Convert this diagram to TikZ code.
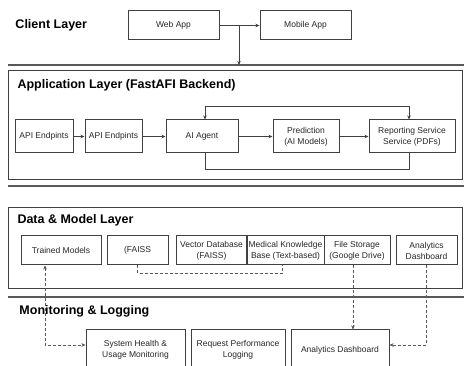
\documentclass[tikz,border=0pt]{standalone}
\usepackage{fontspec}
\setmainfont{Liberation Sans}
\usepackage{tikz}
\usetikzlibrary{arrows.meta,positioning,calc}

\begin{document}
\begin{tikzpicture}[x=1pt, y=-1pt, >={Stealth[length=4pt,width=3.5pt]},
	   font=\fontsize{8.5}{11}\selectfont, line width=1pt, draw=black!75, text=black!85,
	   b/.style={draw=black!75, align=center, inner sep=2pt, minimum height=29pt},
	   lay/.style={anchor=west, inner sep=0pt, font=\fontsize{12.5}{14}\selectfont\bfseries, text=black},
	   sep/.style={line width=1.5pt, draw=black!65},
	   dsh/.style={densely dashed, line width=0.5pt, draw=black!65}]
	  \clip (0,0) rectangle (464,366);
	  % layer frames and separators
	  \draw[sep] (8,65) -- (464,65);
	  \draw[sep] (8,186) -- (464,186);
	  \draw[sep] (8,297) -- (464,297);
	  \draw (8,71) rectangle (462,180);
	  \draw (8,208) rectangle (462,289);
	  \node[lay] (lc) at (15,25) {Client Layer};
	  \node[lay] (la) at (17,85) {Application Layer (FastAFI Backend)};
	  \node[lay] (ld) at (17,220) {Data \& Model Layer};
	  \node[lay] (lm) at (19,311) {Monitoring \& Logging};
	  % client
	  \node[b, minimum width=91pt] (web) at (173.5,25.5) {Web App};
	  \node[b, minimum width=91pt] (mob) at (305.5,25.5) {Mobile App};
	  \coordinate (appin) at (239,65);
	  \draw[->] (web) -- (mob);
	  \draw[->] (web.east) -| (appin);
	  % application
	  \node[b, minimum width=58pt, minimum height=33pt] (ep1) at (44,136.5) {API Endpints};
	  \node[b, minimum width=57pt, minimum height=33pt] (ep2) at (113.5,136.5) {API Endpints};
	  \node[b, minimum width=72pt, minimum height=33pt] (agent) at (202,136.5) {AI Agent};
	  \node[b, minimum width=66pt, minimum height=33pt] (pred) at (306,136.5) {Prediction\\(AI Models)};
	  \node[b, minimum width=86pt, minimum height=33pt] (rep) at (412,136.5) {Reporting Service\\Service (PDFs)};
	  \draw[->] (ep1) -- (ep2);
	  \draw[->] (ep2) -- (agent);
	  \draw[->] (agent) -- (pred);
	  \draw[->] (pred) -- (rep);
	  \draw[<->] ([xshift=3pt]agent.north) -- ++(0,-13) -| ([xshift=-3pt]rep.north);
	  \draw ([xshift=3pt]agent.south) -- ++(0,16) -| ([xshift=-3pt]rep.south);
	  % data and models
	  \node[b, minimum width=80pt] (trained) at (61,250.5) {Trained Models};
	  \node[b, minimum width=61pt] (faiss) at (137.5,250.5) {(FAISS};
	  \node[b, minimum width=71pt] (vec) at (211.5,250.5) {Vector Database\\(FAISS)};
	  \node[b, minimum width=77pt] (med) at (285.5,250.5) {Medical Knowledge\\Base (Text-based)};
	  \node[b, minimum width=66pt] (files) at (357,250.5) {File Storage\\(Google Drive)};
	  \node[b, minimum width=61pt] (adash) at (426.5,250.5) {Analytics\\Dashboard};
	  \draw[dsh] (faiss.south) -- ++(0,8) -| ([xshift=-3.5pt]med.south);
	  % monitoring
	  \node[b, minimum width=99pt, minimum height=40pt] (health) at (135.5,350) {System Health \&\\Usage Monitoring};
	  \node[b, minimum width=94pt, minimum height=40pt] (req) at (238,350) {Request Performance\\Logging};
	  \node[b, minimum width=98pt, minimum height=40pt] (mdash) at (340,350) {Analytics Dashboard};
	  \draw[dsh, <->] ([xshift=-16pt]trained.south) |- ([yshift=5pt]health.west);
	  \draw[dsh, ->] ([xshift=-4pt]files.south) -- ([xshift=-4pt]files.south |- mdash.north);
	  \draw[dsh, ->] (adash.south) |- ([yshift=5pt]mdash.east);
	\end{tikzpicture}
\end{document}
